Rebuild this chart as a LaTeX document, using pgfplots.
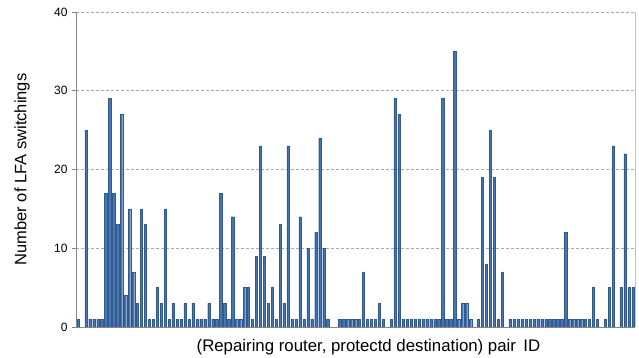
\documentclass[border=0pt]{standalone}
\usepackage{pgfplots}
\pgfplotsset{compat=1.18}
\usepackage{fontspec}
\setmainfont{Liberation Sans}
\definecolor{barfill}{RGB}{70,117,180}
\definecolor{baredge}{RGB}{52,90,140}
\definecolor{axgray}{RGB}{134,134,134}
\definecolor{gridgray}{RGB}{170,170,170}
\begin{document}
\begin{tikzpicture}[x=1pt,y=1pt]
\begin{axis}[
  name=ax,
  at={(0,0)}, anchor=south west,
  scale only axis,
  width=559pt, height=315pt,
  xmin=-0.5, xmax=140.5,
  ymin=0, ymax=40,
  ytick={0,10,20,30,40},
  xtick=\empty,
  ymajorgrids,
  grid style={gridgray, dash pattern=on 3pt off 2pt, line width=0.6pt},
  axis line style={axgray, line width=0.8pt},
  axis x line*=bottom,
  axis y line*=left,
  ytick style={axgray, line width=0.8pt},
  tick align=outside,
  major tick length=4pt,
  tick label style={font=\fontsize{12}{14}\selectfont},
  /pgf/number format/assume math mode=true,
  yticklabel style={xshift=-1pt},
  ylabel={Number of LFA switchings},
  every axis y label/.style={at={(axis description cs:0,0.5)}, rotate=90, anchor=center, yshift=54pt, font=\fontsize{16.5}{18}\selectfont},
  xlabel={(Repairing router, protectd destination) pair\, ID},
  every axis x label/.style={at={(axis description cs:0.5,0)}, anchor=center, yshift=-20pt, xshift=13pt, font=\fontsize{16.8}{18}\selectfont},
  ybar, bar width=0.58,
]
\addplot[fill=barfill, draw=baredge, line width=0.25pt] coordinates {
(0,1) (2,25) (3,1) (4,1) (5,1) (6,1) (7,17) (8,29) (9,17) (10,13)
(11,27) (12,4) (13,15) (14,7) (15,3) (16,15) (17,13) (18,1) (19,1) (20,5)
(21,3) (22,15) (23,1) (24,3) (25,1) (26,1) (27,3) (28,1) (29,3) (30,1)
(31,1) (32,1) (33,3) (34,1) (35,1) (36,17) (37,3) (38,1) (39,14) (40,1)
(41,1) (42,5) (43,5) (44,1) (45,9) (46,23) (47,9) (48,3) (49,5) (50,1)
(51,13) (52,3) (53,23) (54,1) (55,1) (56,14) (57,1) (58,10) (59,1) (60,12)
(61,24) (62,10) (63,1) (66,1) (67,1) (68,1) (69,1) (70,1)
(71,1) (72,7) (73,1) (74,1) (75,1) (76,3) (77,1) (79,1) (80,29)
(81,27) (82,1) (83,1) (84,1) (85,1) (86,1) (87,1) (88,1) (89,1) (90,1)
(91,1) (92,29) (93,1) (94,1) (95,35) (96,1) (97,3) (98,3) (99,1)
(101,1) (102,19) (103,8) (104,25) (105,19) (106,1) (107,7) (109,1) (110,1)
(111,1) (112,1) (113,1) (114,1) (115,1) (116,1) (117,1) (118,1) (119,1) (120,1)
(121,1) (122,1) (123,12) (124,1) (125,1) (126,1) (127,1) (128,1) (129,1) (130,5)
(131,1) (133,1) (134,5) (135,23) (137,5) (138,22) (139,5) (140,5)
};
\end{axis}
\draw[gridgray!70, line width=0.6pt] (ax.south east) -- (ax.north east);
\pgfresetboundingbox
\path ([shift={(-76pt,-31pt)}]ax.south west) rectangle ([shift={(4pt,12pt)}]ax.north east);
\end{tikzpicture}
\end{document}
